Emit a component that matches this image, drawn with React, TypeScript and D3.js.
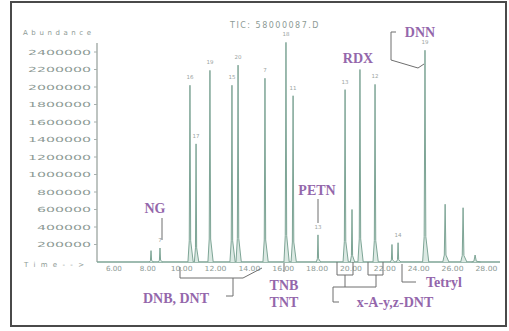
import React from 'react';
import * as d3 from 'd3';

// retention time (min), abundance, half width (min), small scan label
const peakTimes = [8.19, 8.72, 10.49, 10.85, 11.67, 12.97, 13.33, 14.92, 16.16, 16.58, 18.05, 19.65, 20.06, 20.53, 21.42, 22.42, 22.78, 24.37, 25.56, 26.62, 27.33];
const peakHeights = [130000, 160000, 2020000, 1350000, 2190000, 2020000, 2250000, 2100000, 2510000, 1900000, 310000, 1970000, 600000, 2200000, 2030000, 200000, 220000, 2420000, 660000, 620000, 80000];
const peakWidths = [0.1, 0.1, 0.12, 0.1, 0.12, 0.12, 0.12, 0.12, 0.12, 0.12, 0.1, 0.12, 0.1, 0.12, 0.12, 0.1, 0.1, 0.14, 0.14, 0.14, 0.2];
const peakTags = ['', '7', '16', '17', '19', '15', '20', '7', '18', '11', '13', '13', '', '', '12', '', '14', '19', '', '', ''];

const yTicks = [200000, 400000, 600000, 800000, 1000000, 1200000, 1400000, 1600000, 1800000, 2000000, 2200000, 2400000];
const xTicks = [6, 8, 10, 12, 14, 16, 18, 20, 22, 24, 26, 28];

const purple = '#9467ab';
const teal = '#7ea596';
const grey = '#8d9a95';

export default function App() {
  const x = d3.scaleLinear().domain([5, 28.8]).range([97, 500]);
  const y = d3.scaleLinear().domain([0, 2400000]).range([262, 52]);

  const line = d3.line<[number, number]>()
    .x(d => x(d[0]))
    .y(d => y(d[1]));

  const peaks = peakTimes.map((t, i) => {
    const h = peakHeights[i];
    const w = peakWidths[i];
    const pts: [number, number][] = [
      [t - w, 0],
      [t - w * 0.35, h * 0.12],
      [t, h],
      [t + w * 0.35, h * 0.12],
      [t + w * 1.6, 0],
    ];
    return { t, h, d: line(pts) as string, tag: peakTags[i] };
  });

  const lab = {
    fontFamily: 'Liberation Serif, serif',
    fontWeight: 700,
    fontSize: 14,
    fill: purple,
  } as const;

  return (
    <svg width={509} height={331} style={{ position: 'absolute', left: 0, top: 0, background: '#fff' }}
      fontFamily="DejaVu Sans, sans-serif">
      <rect x={11} y={2} width={495} height={324} fill="#fff" stroke="#4a4a4a" strokeWidth={2} />

      <text x={275} y={28} textAnchor="middle" fontSize={8} fill={grey} letterSpacing={1.5}>TIC: 58000087.D</text>
      <text x={57} y={35} textAnchor="middle" fontSize={7} fill={grey} textLength={68}>Abundance</text>

      {/* y axis */}
      <line x1={97} x2={97} y1={43} y2={262} stroke="#a8b0ad" strokeWidth={1.5} />
      {yTicks.map(v => (
        <g key={v}>
          <line x1={94} x2={97} y1={y(v)} y2={y(v)} stroke="#a8b0ad" />
          <text x={91} y={y(v) + 2.5} textAnchor="end" fontSize={7} fill={grey}
            textLength={String(v).length * 9} lengthAdjust="spacingAndGlyphs">{v}</text>
        </g>
      ))}
      <text x={24} y={267} fontSize={7} fill={grey} textLength={60}>Time--&gt;</text>

      {/* baseline and x labels */}
      <line x1={97} x2={500} y1={262} y2={262} stroke={teal} strokeWidth={1.5} />
      {xTicks.map(t => (
        <text key={t} x={x(t)} y={271} textAnchor="middle" fontSize={7} fill={grey}
          textLength={t < 10 ? 16 : 22} lengthAdjust="spacingAndGlyphs">{t.toFixed(2)}</text>
      ))}

      {/* peaks */}
      {peaks.map((p, i) => (
        <g key={i}>
          <path d={p.d} fill="#dbe9e3" stroke={teal} strokeWidth={1} />
          {p.tag && (
            <text x={x(p.t)} y={y(p.h) - 6} textAnchor="middle" fontSize={5.5} fill="#9aa39f">{p.tag}</text>
          )}
        </g>
      ))}

      {/* compound annotations */}
      <text {...lab} x={155} y={213} textAnchor="middle">NG</text>
      <line x1={162} x2={162} y1={218} y2={240} stroke="#6f6f6f" />

      <text {...lab} x={317} y={195} textAnchor="middle">PETN</text>
      <line x1={318} x2={318} y1={199} y2={223} stroke="#6f6f6f" />

      <text {...lab} x={358} y={63} textAnchor="middle">RDX</text>

      <text {...lab} x={420} y={37} textAnchor="middle">DNN</text>
      <path d="M396,32 H391 V60 L418,68 L424,64" fill="none" stroke="#6f6f6f" />

      <text {...lab} x={176} y={303} textAnchor="middle">DNB, DNT</text>
      <path d="M180,267 V278 H243 L262,268" fill="none" stroke="#6f6f6f" />
      <path d="M233,278 V296 H226" fill="none" stroke="#6f6f6f" />

      <text {...lab} x={284} y={290} textAnchor="middle">TNB</text>
      <text {...lab} x={284} y={307} textAnchor="middle">TNT</text>
      <line x1={284} x2={284} y1={263} y2={272} stroke="#6f6f6f" />

      <text {...lab} x={395} y={307} textAnchor="middle">x-A-y,z-DNT</text>
      <path d="M337,262 V275 H353 V262 M368,262 V275 H383 V262 M345,275 V287 M376,275 V287 M333,287 H376 M333,287 V302 H339"
        fill="none" stroke="#6f6f6f" />

      <text {...lab} x={444} y={287} textAnchor="middle">Tetryl</text>
      <path d="M402,264 V282 H416" fill="none" stroke="#6f6f6f" />
    </svg>
  );
}
